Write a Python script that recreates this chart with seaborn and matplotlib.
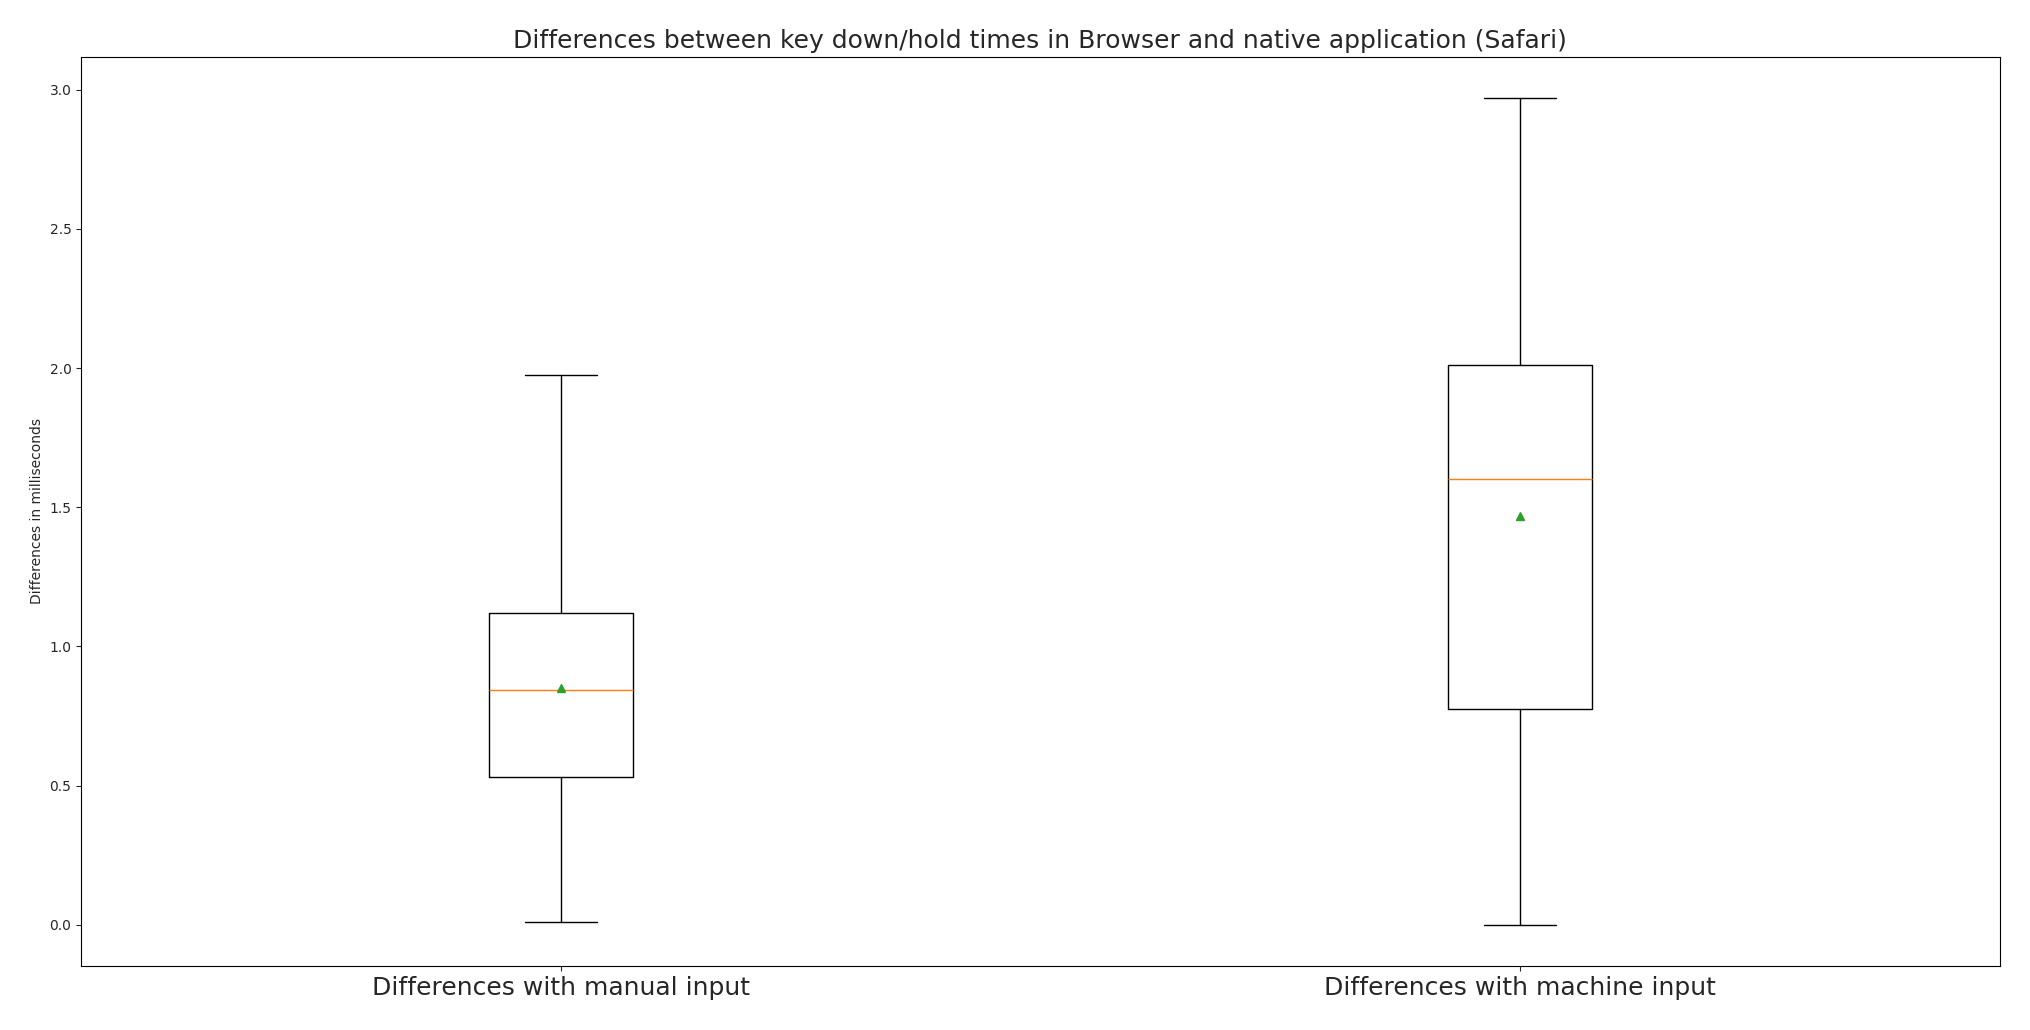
import matplotlib
matplotlib.use("Agg")
import matplotlib.pyplot as plt
import seaborn as sns

sns.set_style("ticks")
plt.rcParams['font.family'] = ['DejaVu Sans']

labels = ["Differences with manual input", "Differences with machine input"]
whislo = [0.01, 0.0]
q1 = [0.53, 0.775]
med = [0.845, 1.60]
q3 = [1.12, 2.01]
whishi = [1.975, 2.97]
means = [0.85, 1.47]

stats = []
for i in range(len(labels)):
    stats.append({'label': labels[i], 'whislo': whislo[i], 'q1': q1[i], 'med': med[i],
                  'q3': q3[i], 'whishi': whishi[i], 'mean': means[i], 'fliers': []})

fig, ax = plt.subplots(figsize=(20.3, 10.3), dpi=100)
fig.subplots_adjust(left=0.040, right=0.985, top=0.945, bottom=0.062)
ax.bxp(stats, showmeans=True,
       boxprops=dict(color='black'), whiskerprops=dict(color='black'),
       capprops=dict(color='black'), medianprops=dict(color='#ff7f0e'),
       meanprops=dict(marker='^', markerfacecolor='#2ca02c', markeredgecolor='#2ca02c'))
for s in ax.spines.values():
    s.set_visible(True)
    s.set_color('black')
ax.set_title("Differences between key down/hold times in Browser and native application (Safari)", fontsize=18)
ax.set_ylabel("Differences in milliseconds", fontsize=10)
ax.tick_params(axis='x', labelsize=18)
ax.tick_params(axis='y', labelsize=10)
plt.savefig("out.png")
